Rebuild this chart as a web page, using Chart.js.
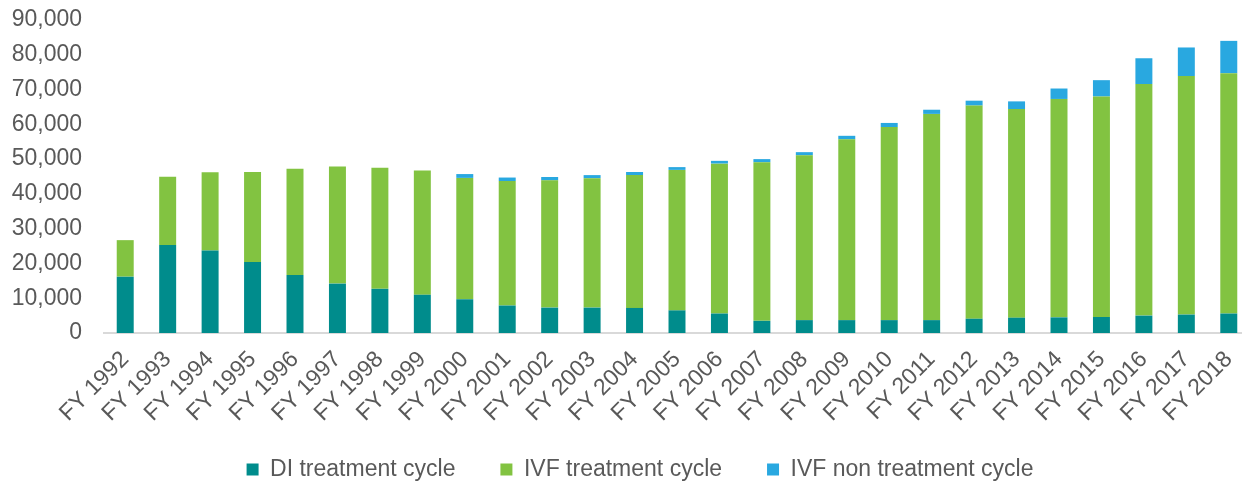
<!DOCTYPE html>
<html>
<head>
<meta charset="utf-8">
<script src="https://cdn.jsdelivr.net/npm/chart.js@4.4.1/dist/chart.umd.min.js"></script>
<style>
    html, body { margin: 0; padding: 0; background: #fff; overflow: hidden; }
    #box { width: 1250px; height: 484px; position: relative; }
</style>
</head>
<body>
<div id="box"><canvas id="grafico-ciclos"></canvas></div>
<script>
// DADOS
var anos = ['FY 1992', 'FY 1993', 'FY 1994', 'FY 1995', 'FY 1996', 'FY 1997', 'FY 1998', 'FY 1999',
    'FY 2000', 'FY 2001', 'FY 2002', 'FY 2003', 'FY 2004', 'FY 2005', 'FY 2006', 'FY 2007', 'FY 2008',
    'FY 2009', 'FY 2010', 'FY 2011', 'FY 2012', 'FY 2013', 'FY 2014', 'FY 2015', 'FY 2016', 'FY 2017', 'FY 2018'];

var diTratamento = [16200, 25300, 23700, 20400, 16700, 14200, 12700, 11000, 9700, 7900, 7300, 7300, 7200,
    6500, 5600, 3500, 3700, 3700, 3700, 3700, 4100, 4400, 4500, 4600, 5000, 5300, 5600];

var ivfTratamento = [10500, 19600, 22500, 25900, 30500, 33700, 34800, 35700, 34900, 35800, 36600, 37200, 38200,
    40400, 43100, 45600, 47400, 52000, 55500, 59300, 61300, 60000, 62800, 63400, 66600, 68600, 69100];

var ivfNaoTratamento = [0, 0, 0, 0, 0, 0, 0, 0, 1100, 1000, 950, 900, 900,
    800, 800, 900, 900, 1000, 1200, 1200, 1400, 2200, 3000, 4700, 7400, 8200, 9300];

var eixoYMin = 0;
var eixoYMax = 90000;
var eixoYPasso = 10000;

var corTexto = '#595959';
var fonte = '"Liberation Sans", Arial, sans-serif';

var ctx = document.getElementById('grafico-ciclos').getContext('2d');

var dataCiclos = {
    labels: anos,
    datasets: [{
        label: 'DI treatment cycle',
        backgroundColor: '#008c8c',
        data: diTratamento
    }, {
        label: 'IVF treatment cycle',
        backgroundColor: '#82c341',
        data: ivfTratamento
    }, {
        label: 'IVF non treatment cycle',
        backgroundColor: '#29a8e0',
        data: ivfNaoTratamento
    }]
};

var optionsCiclos = {
    responsive: true,
    maintainAspectRatio: false,
    animation: false,
    datasets: {
        bar: {
            barPercentage: 0.4,
            categoryPercentage: 1.0,
            borderWidth: 0
        }
    },
    layout: {
        padding: { top: 0, right: 0, bottom: -27, left: 0 }
    },
    scales: {
        x: {
            stacked: true,
            grid: { display: false, drawTicks: false },
            border: { display: true, color: '#d9d9d9', width: 2 },
            ticks: {
                color: corTexto,
                font: { family: fonte, size: 23 },
                maxRotation: 45,
                minRotation: 45,
                autoSkip: false,
                padding: 13
            },
            afterFit: function (scale) {
                scale.height = 100;
                scale.paddingRight = 0; // a ultima barra encosta na borda
            }
        },
        y: {
            stacked: true,
            min: eixoYMin,
            max: eixoYMax,
            grid: { display: false, drawTicks: false },
            border: { display: false },
            ticks: {
                stepSize: eixoYPasso,
                autoSkip: false,
                color: corTexto,
                font: { family: fonte, size: 23 },
                padding: 22
            },
            afterFit: function (scale) {
                scale.width = 104; // alinha a area do grafico com a referencia
                scale.paddingTop = 20;
            }
        }
    },
    plugins: {
        legend: {
            position: 'bottom',
            labels: {
                boxWidth: 12,
                boxHeight: 12,
                padding: 45,
                color: corTexto,
                font: { family: fonte, size: 23 }
            }
        },
        tooltip: { enabled: false }
    }
};

// sobe a legenda por cima da area dos rotulos (sem fundo, nao cobre nada)
var ajusteLegenda = {
    id: 'ajusteLegenda',
    afterLayout: function (chart) {
        var legenda = chart.legend;
        legenda.top -= 20;
        legenda.bottom -= 20;
        legenda.left += 15;
        legenda.right += 15;
    }
};

var graficoCiclos = new Chart(ctx, {
    type: 'bar',
    data: dataCiclos,
    options: optionsCiclos,
    plugins: [ajusteLegenda]
});
</script>
</body>
</html>
